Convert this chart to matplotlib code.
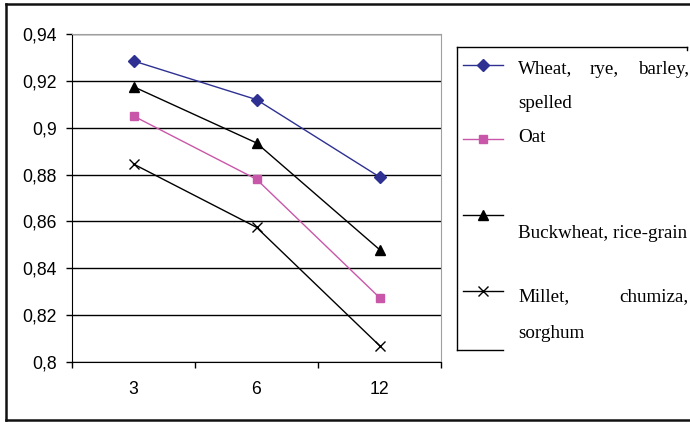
import matplotlib
matplotlib.use('Agg')
import matplotlib.pyplot as plt
from matplotlib.lines import Line2D

# storage periods (months) and quality index per grain group
periods = ['3', '6', '12']
wheat = [0.9285, 0.912, 0.879]
oat = [0.905, 0.878, 0.8275]
buckwheat = [0.9175, 0.8935, 0.848]
millet = [0.8845, 0.8575, 0.807]
y_ticks = [0.8, 0.82, 0.84, 0.86, 0.88, 0.9, 0.92, 0.94]
y_labels = ['0,8', '0,82', '0,84', '0,86', '0,88', '0,9', '0,92', '0,94']

W, H = 690, 422
fig = plt.figure(figsize=(W / 100, H / 100), dpi=100)

def fx(px):
    return px / W

def fy(py):
    return 1 - py / H

ax = fig.add_axes([fx(72), fy(362), fx(441) - fx(72), fy(34) - fy(362)])

x = list(range(len(periods)))
navy = '#2E3192'
pink = '#C957A9'
ax.plot(x, wheat, color=navy, lw=1, marker='D', ms=6, mfc=navy, mec=navy, zorder=3)
ax.plot(x, oat, color=pink, lw=1, marker='s', ms=5.5, mfc=pink, mec=pink, zorder=3)
ax.plot(x, buckwheat, color='black', lw=1, marker='^', ms=7, zorder=3)
ax.plot(x, millet, color='black', lw=1, marker='x', ms=7, mew=1, zorder=3)

ax.set_xlim(-0.5, len(periods) - 0.5)
ax.set_ylim(0.8, 0.94)
ax.set_yticks(y_ticks)
ax.set_yticklabels(y_labels, fontsize=12.7, family='Liberation Sans')
ax.set_xticks([i - 0.5 for i in range(len(periods) + 1)])
ax.set_xticklabels([])
ax.set_xticks(x, minor=True)
ax.set_xticklabels(periods, minor=True, fontsize=12.7, family='Liberation Sans')
ax.tick_params(axis='x', which='major', length=4.5, width=1, direction='out')
ax.tick_params(axis='x', which='minor', length=0, pad=13.5)
ax.tick_params(axis='y', length=4.3, width=1, direction='out', pad=6.5)

ax.set_axisbelow(True)
ax.grid(axis='y', color='black', lw=1)
for side in ['left', 'bottom']:
    ax.spines[side].set_color('black')
for side in ['top', 'right']:
    ax.spines[side].set_color('#a0a0a0')

# outer frame (right side runs past the canvas)
frame = dict(color='#111111', lw=1.8, transform=fig.transFigure)
fig.add_artist(Line2D([fx(6), 1.0], [fy(4), fy(4)], **frame))
fig.add_artist(Line2D([fx(6), fx(6)], [fy(4), fy(420)], **frame))
fig.add_artist(Line2D([fx(6), 1.0], [fy(420), fy(420)], **frame))

# legend box, drawn by hand
box = dict(color='black', lw=1, transform=fig.transFigure)
fig.add_artist(Line2D([fx(457), fx(687)], [fy(47), fy(47)], **box))
fig.add_artist(Line2D([fx(687), fx(687)], [fy(47), fy(50)], **box))
fig.add_artist(Line2D([fx(457), fx(457)], [fy(47), fy(350)], **box))
fig.add_artist(Line2D([fx(457), fx(503)], [fy(350), fy(350)], **box))

handles = [
    (65, navy, 'D', 6, navy),
    (139, pink, 's', 5.5, pink),
    (215, 'black', '^', 7, 'black'),
    (291, 'black', 'x', 7, 'black'),
]
for py, col, mk, ms, mc in handles:
    fig.add_artist(Line2D([fx(463), fx(503)], [fy(py), fy(py)], color=col, lw=1,
                          transform=fig.transFigure))
    fig.add_artist(Line2D([fx(483)], [fy(py)], color=col, marker=mk, ms=ms, mfc=mc,
                          mec=mc, mew=1, lw=0, transform=fig.transFigure))

serif = dict(fontsize=13.7, family='Liberation Serif', va='center')
fig.text(fx(518), fy(69), 'Wheat,', ha='left', **serif)
fig.text(fx(604), fy(69), 'rye,', ha='center', **serif)
fig.text(fx(689), fy(69), 'barley,', ha='right', **serif)
fig.text(fx(518), fy(103), 'spelled', ha='left', **serif)
fig.text(fx(518), fy(137), 'Oat', ha='left', **serif)
fig.text(fx(518), fy(233), 'Buckwheat, rice-grain', ha='left', **serif)
fig.text(fx(518), fy(297), 'Millet,', ha='left', **serif)
fig.text(fx(689), fy(297), 'chumiza,', ha='right', **serif)
fig.text(fx(518), fy(333), 'sorghum', ha='left', **serif)

fig.savefig('out.png', dpi=100)
